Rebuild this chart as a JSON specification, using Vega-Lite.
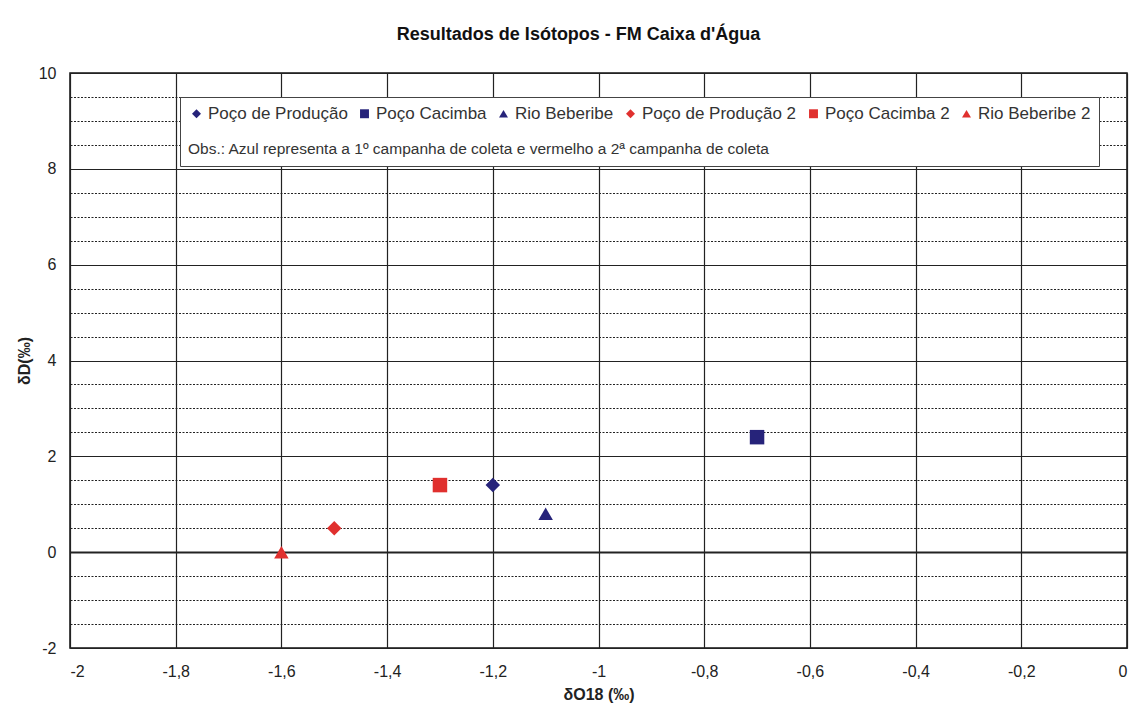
{
  "$schema": "https://vega.github.io/schema/vega-lite/v6.json",
  "autosize": "none",
  "width": 1057,
  "height": 575,
  "padding": {"left": 70, "top": 73, "right": 6, "bottom": 61},
  "background": "white",
  "title": {
    "text": "Resultados de Isótopos - FM Caixa d'Água",
    "font": "Liberation Sans",
    "fontSize": 18,
    "fontWeight": "bold",
    "color": "#111",
    "anchor": "middle",
    "dx": -20,
    "offset": 21
  },
  "data": {
    "values": [
      {"serie": "Poço de Produção", "o18": -1.2, "d": 1.4},
      {"serie": "Poço Cacimba", "o18": -0.7, "d": 2.4},
      {"serie": "Rio Beberibe", "o18": -1.1, "d": 0.8},
      {"serie": "Poço de Produção 2", "o18": -1.5, "d": 0.5},
      {"serie": "Poço Cacimba 2", "o18": -1.3, "d": 1.4},
      {"serie": "Rio Beberibe 2", "o18": -1.6, "d": 0}
    ]
  },
  "mark": {"type": "point", "filled": true, "opacity": 1, "size": 210},
  "encoding": {
    "x": {
      "field": "o18",
      "type": "quantitative",
      "scale": {"domain": [-2, 0], "nice": false, "zero": false},
      "axis": {
        "title": "δO18 (‰)",
        "values": [-2, -1.8, -1.6, -1.4, -1.2, -1, -0.8, -0.6, -0.4, -0.2, 0],
        "labelExpr": "replace(datum.value + '', '.', ',')",
        "ticks": false,
        "domain": false,
        "labelPadding": 15,
        "titlePadding": 7,
        "gridColor": "#222",
        "gridWidth": 1.2,
        "gridOpacity": 1
      }
    },
    "y": {
      "field": "d",
      "type": "quantitative",
      "scale": {"domain": [-2, 10], "nice": false, "zero": false},
      "axis": {
        "title": "δD(‰)",
        "values": [-2, -1.5, -1, -0.5, 0, 0.5, 1, 1.5, 2, 2.5, 3, 3.5, 4, 4.5, 5, 5.5, 6, 6.5, 7, 7.5, 8, 8.5, 9, 9.5, 10],
        "labelExpr": "datum.value % 2 === 0 ? datum.value + '' : ''",
        "ticks": false,
        "domain": false,
        "labelPadding": 14,
        "titlePadding": 6,
        "gridColor": "#222",
        "gridOpacity": 1,
        "gridDash": {"condition": {"test": "datum.value % 2 === 0", "value": []}, "value": [2, 1.5]},
        "gridWidth": {"condition": {"test": "datum.value === 0", "value": 2.2}, "value": 1.2}
      }
    },
    "color": {
      "field": "serie",
      "type": "nominal",
      "scale": {
        "domain": ["Poço de Produção", "Poço Cacimba", "Rio Beberibe", "Poço de Produção 2", "Poço Cacimba 2", "Rio Beberibe 2"],
        "range": ["#26237a", "#26237a", "#26237a", "#e0302e", "#e0302e", "#e0302e"]
      },
      "legend": {
        "title": "Obs.: Azul representa a 1º campanha de coleta e vermelho a 2ª campanha de coleta",
        "titleOrient": "bottom",
        "titleAnchor": "start",
        "orient": "none",
        "legendX": 110,
        "legendY": 24,
        "direction": "horizontal",
        "columns": 6
      }
    },
    "shape": {
      "field": "serie",
      "type": "nominal",
      "scale": {
        "domain": ["Poço de Produção", "Poço Cacimba", "Rio Beberibe", "Poço de Produção 2", "Poço Cacimba 2", "Rio Beberibe 2"],
        "range": ["diamond", "square", "triangle-up", "diamond", "square", "triangle-up"]
      },
      "legend": {
        "title": "Obs.: Azul representa a 1º campanha de coleta e vermelho a 2ª campanha de coleta",
        "titleOrient": "bottom",
        "titleAnchor": "start",
        "orient": "none",
        "legendX": 110,
        "legendY": 24,
        "direction": "horizontal",
        "columns": 6
      }
    }
  },
  "config": {
    "font": "Liberation Sans",
    "view": {"stroke": "#111", "strokeWidth": 1.5},
    "axis": {
      "labelFont": "Liberation Sans",
      "labelFontSize": 16,
      "labelColor": "#222",
      "titleFont": "Liberation Sans",
      "titleFontSize": 16,
      "titleFontWeight": "bold",
      "titleColor": "#222"
    },
    "legend": {
      "labelFont": "Liberation Sans",
      "labelFontSize": 17,
      "labelColor": "#333",
      "labelLimit": 300,
      "labelOffset": 3,
      "titleFont": "Liberation Sans",
      "titleFontSize": 15.5,
      "titleFontWeight": "normal",
      "titleColor": "#333",
      "titleLimit": 900,
      "titlePadding": 20,
      "symbolSize": 80,
      "symbolType": "circle",
      "symbolOpacity": 1,
      "symbolStrokeWidth": 0,
      "columnPadding": 8,
      "fillColor": "white",
      "strokeColor": "#444",
      "padding": 8
    }
  }
}
